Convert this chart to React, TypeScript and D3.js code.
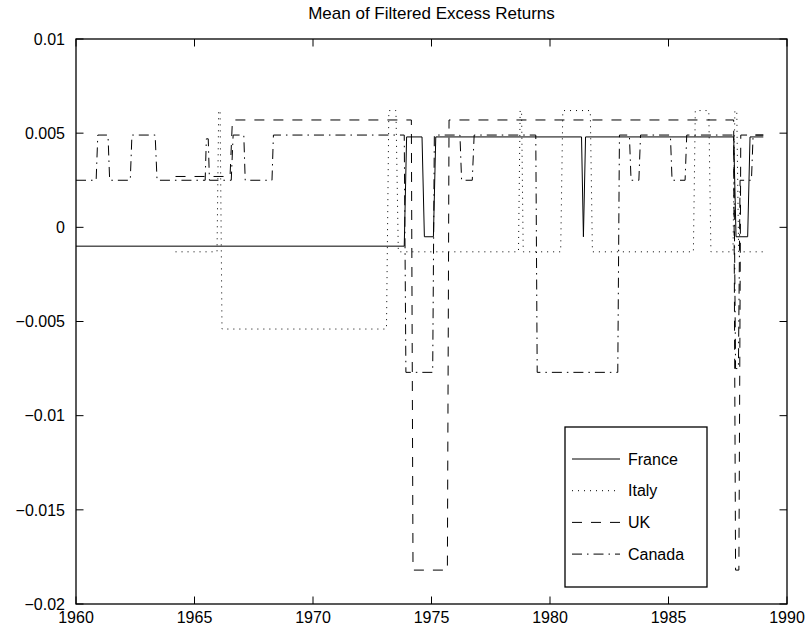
import * as d3 from 'd3';
import { useEffect, useRef } from 'react';

const width = 811;
const height = 635;
const margin = { top: 39, right: 24, bottom: 31, left: 76 };
const fontFamily = '"Liberation Sans", Arial, Helvetica, sans-serif';

const titleText = 'Mean of Filtered Excess Returns';
const xTicks = [1960, 1965, 1970, 1975, 1980, 1985, 1990];
const yTicks = [-0.02, -0.015, -0.01, -0.005, 0, 0.005, 0.01];
const yTickLabels = ['\u22120.02', '\u22120.015', '\u22120.01', '\u22120.005', '0', '0.005', '0.01'];

const seriesNames = ['France', 'Italy', 'UK', 'Canada'];

const franceYears = [1960.0, 1973.85, 1973.95, 1974.6, 1974.7, 1975.08, 1975.18, 1981.33, 1981.41, 1981.5, 1987.75, 1987.85, 1988.34, 1988.44, 1989.0];
const franceValues = [-0.001, -0.001, 0.0048, 0.0048, -0.0005, -0.0005, 0.0048, 0.0048, -0.0005, 0.0048, 0.0048, -0.0005, -0.0005, 0.0048, 0.0048];

const italyYears = [1964.2, 1965.95, 1966.02, 1966.08, 1966.16, 1973.1, 1973.2, 1973.5, 1973.6, 1978.67, 1978.74, 1978.8, 1978.87, 1980.45, 1980.54, 1981.7, 1981.79, 1986.05, 1986.13, 1986.7, 1986.79, 1987.72, 1987.8, 1987.88, 1987.96, 1989.0];
const italyValues = [-0.0013, -0.0013, 0.0062, 0.0062, -0.0054, -0.0054, 0.0062, 0.0062, -0.0013, -0.0013, 0.0062, 0.0062, -0.0013, -0.0013, 0.0062, 0.0062, -0.0013, -0.0013, 0.0062, 0.0062, -0.0013, -0.0013, 0.0062, 0.0062, -0.0013, -0.0013];

const ukYears = [1964.2, 1966.5, 1966.6, 1974.15, 1974.22, 1975.67, 1975.74, 1987.75, 1987.83, 1987.97, 1988.05, 1989.0];
const ukValues = [0.0027, 0.0027, 0.0057, 0.0057, -0.0182, -0.0182, 0.0057, 0.0057, -0.0182, -0.0182, 0.0049, 0.0049];

const canadaYears = [1960.0, 1960.85, 1960.92, 1961.35, 1961.42, 1962.29, 1962.36, 1963.34, 1963.42, 1965.45, 1965.5, 1965.58, 1965.63, 1966.55, 1966.63, 1967.08, 1967.14, 1968.27, 1968.33, 1973.85, 1973.92, 1975.05, 1975.12, 1976.2, 1976.27, 1976.72, 1976.8, 1979.4, 1979.46, 1982.86, 1982.93, 1983.35, 1983.42, 1983.75, 1983.82, 1985.08, 1985.15, 1985.7, 1985.77, 1987.75, 1987.83, 1987.95, 1988.02, 1988.5, 1988.57, 1989.0];
const canadaValues = [0.0025, 0.0025, 0.0049, 0.0049, 0.0025, 0.0025, 0.0049, 0.0049, 0.0025, 0.0025, 0.0047, 0.0047, 0.0025, 0.0025, 0.0049, 0.0049, 0.0025, 0.0025, 0.0049, 0.0049, -0.0077, -0.0077, 0.0049, 0.0049, 0.0025, 0.0025, 0.0049, 0.0049, -0.0077, -0.0077, 0.0049, 0.0049, 0.0025, 0.0025, 0.0049, 0.0049, 0.0025, 0.0025, 0.0049, 0.0049, -0.0075, -0.0075, 0.0025, 0.0025, 0.0049, 0.0049];

const seriesYears = [franceYears, italyYears, ukYears, canadaYears];
const seriesValues = [franceValues, italyValues, ukValues, canadaValues];
const dashPatterns = [null, '1,5', '10,9', '10,5,1.5,5'];

const App = () => {
  const svgRef = useRef(null);

  useEffect(() => {
    const svg = d3.select(svgRef.current);
    svg.selectAll('*').remove();

    const innerWidth = width - margin.left - margin.right;
    const innerHeight = height - margin.top - margin.bottom;

    const x = d3.scaleLinear().domain([1960, 1990]).range([0, innerWidth]);
    const y = d3.scaleLinear().domain([-0.02, 0.01]).range([innerHeight, 0]);

    svg.append('rect').attr('width', width).attr('height', height).attr('fill', '#fff');

    svg
      .append('text')
      .attr('x', margin.left + innerWidth / 2)
      .attr('y', 19)
      .attr('text-anchor', 'middle')
      .style('font-family', fontFamily)
      .style('font-size', '17px')
      .text(titleText);

    const chart = svg.append('g').attr('transform', `translate(${margin.left}, ${margin.top})`);

    const line = d3
      .line()
      .x((d) => x(d[0]))
      .y((d) => y(d[1]));

    seriesNames.forEach((name, index) => {
      const points = seriesYears[index].map((year, i) => [year, seriesValues[index][i]]);
      chart
        .append('path')
        .datum(points)
        .attr('fill', 'none')
        .attr('stroke', '#000')
        .attr('stroke-width', 1)
        .attr('stroke-dasharray', dashPatterns[index])
        .attr('d', line);
    });

    // box + inward ticks on all four sides
    chart
      .append('rect')
      .attr('width', innerWidth)
      .attr('height', innerHeight)
      .attr('fill', 'none')
      .attr('stroke', '#000')
      .attr('stroke-width', 1.3);

    const tickLength = 7.5;
    const ticks = chart.append('g').attr('stroke', '#000').attr('stroke-width', 1);
    xTicks.forEach((tick) => {
      ticks.append('line').attr('x1', x(tick)).attr('x2', x(tick)).attr('y1', innerHeight).attr('y2', innerHeight - tickLength);
      ticks.append('line').attr('x1', x(tick)).attr('x2', x(tick)).attr('y1', 0).attr('y2', tickLength);
    });
    yTicks.forEach((tick) => {
      ticks.append('line').attr('x1', 0).attr('x2', tickLength).attr('y1', y(tick)).attr('y2', y(tick));
      ticks.append('line').attr('x1', innerWidth).attr('x2', innerWidth - tickLength).attr('y1', y(tick)).attr('y2', y(tick));
    });

    chart
      .append('g')
      .selectAll('text')
      .data(xTicks)
      .join('text')
      .attr('x', (d) => x(d))
      .attr('y', innerHeight + 19)
      .attr('text-anchor', 'middle')
      .style('font-family', fontFamily)
      .style('font-size', '16px')
      .text((d) => d);

    chart
      .append('g')
      .selectAll('text')
      .data(yTicks)
      .join('text')
      .attr('x', -11)
      .attr('y', (d) => y(d))
      .attr('dy', '0.36em')
      .attr('text-anchor', 'end')
      .style('font-family', fontFamily)
      .style('font-size', '16px')
      .text((d, i) => yTickLabels[i]);

    // legend
    const legend = svg.append('g').attr('transform', 'translate(565, 427)');
    legend
      .append('rect')
      .attr('width', 142)
      .attr('height', 160)
      .attr('fill', '#fff')
      .attr('stroke', '#000')
      .attr('stroke-width', 1.3);

    seriesNames.forEach((name, index) => {
      const rowY = 32 + index * 31.7;
      legend
        .append('line')
        .attr('x1', 7)
        .attr('x2', 55)
        .attr('y1', rowY)
        .attr('y2', rowY)
        .attr('stroke', '#000')
        .attr('stroke-width', 1)
        .attr('stroke-dasharray', dashPatterns[index]);
      legend
        .append('text')
        .attr('x', 63)
        .attr('y', rowY)
        .attr('dy', '0.36em')
        .style('font-family', fontFamily)
        .style('font-size', '16px')
        .text(name);
    });
  }, []);

  return (
    <svg
      ref={svgRef}
      width={width}
      height={height}
      style={{ position: 'absolute', left: 0, top: 0, display: 'block' }}
    />
  );
};

export default App;
